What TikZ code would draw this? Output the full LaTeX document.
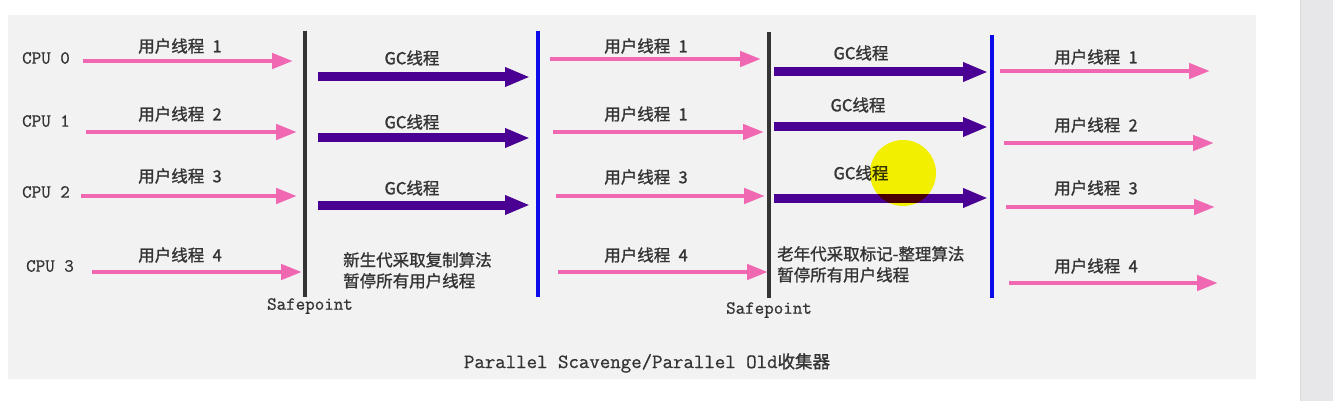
\documentclass[tikz,border=0pt]{standalone}
\usepackage{fontspec}
\setmonofont[FakeBold=0.8]{Latin Modern Mono}
\newfontfamily\cjk[FakeBold=1.2]{Noto Sans CJK SC}
\usepackage{xcolor}
\usetikzlibrary{arrows.meta,positioning}
\definecolor{panelgray}{RGB}{242,242,242}
\definecolor{bargray}{RGB}{231,231,233}
\definecolor{userpink}{RGB}{240,104,178}
\definecolor{gcpurple}{RGB}{74,0,146}
\definecolor{spblue}{RGB}{12,12,235}
\definecolor{inkgray}{RGB}{52,52,52}
\definecolor{cursoryellow}{RGB}{255,252,0}

\begin{document}
\begin{tikzpicture}[x=1pt,y=-1pt,
  userarrow/.style={line width=4.5pt,userpink,-{Triangle[length=21pt,width=15pt]}},
  gcarrow/.style={line width=9pt,gcpurple,-{Triangle[length=25pt,width=18pt]}},
  spline/.style={line width=3.5pt,inkgray},
  blueline/.style={line width=3.5pt,spblue},
  cjklbl/.style={inner sep=0pt,text=inkgray,font=\cjk\fontsize{16.5}{19}\selectfont},
  monolbl/.style={inner sep=0pt,text=inkgray,font=\ttfamily\fontsize{18.5}{21}\selectfont},
  desclbl/.style={cjklbl,anchor=north west,align=left,font=\cjk\fontsize{16.5}{21}\selectfont}]
\useasboundingbox (0,0) rectangle (1333,401);
\fill[white] (0,0) rectangle (1333,401);
\fill[panelgray] (8,15) rectangle (1256,379);
\fill[bargray] (1300,0) rectangle (1333,401);
\draw[line width=1pt,black!15] (1300,0) -- (1300,401);

\foreach \i/\x/\y in {0/46/58,1/46/121,2/46/192,3/50/266}
  \node[monolbl] (cpu\i) at (\x,\y) {CPU \i};

\foreach \i/\y/\xa/\xb/\ly in {0/61/83/293/46,1/132/86/297/114,2/196/81/297/176,3/272/92/302/255} {
  \coordinate (ua\i) at (\xa,\y);
  \coordinate (ub\i) at (\xb,\y);
  \draw[userarrow] (ua\i) -- (ub\i);
  \pgfmathtruncatemacro\n{\i+1}
  \node[cjklbl] (ul\i) at (180,\ly) {用户线程\enspace\n};
}

\coordinate (spa) at (305,31);
\coordinate (spb) at (305,297);
\draw[spline] (spa) -- (spb);
\node[monolbl,below=1pt of spb,xshift=5pt] (safe1) {Safepoint};

\foreach \i/\y/\ly in {0/77/58,1/138/122,2/205/188} {
  \coordinate (ga\i) at (318,\y);
  \coordinate (gb\i) at (530,\y);
  \draw[gcarrow] (ga\i) -- (gb\i);
  \node[cjklbl] (gl\i) at (412,\ly) {GC线程};
}
\node[desclbl] (young) at (343,252) {新生代采取复制算法\\暂停所有用户线程};

\coordinate (bla) at (538,31);
\coordinate (blb) at (538,297);
\draw[blueline] (bla) -- (blb);

\foreach \i/\y/\xa/\xb/\ly/\n in {0/59/550/761/46/1,1/132/553/764/114/1,2/196/556/765/177/3,3/272/558/768/255/4} {
  \coordinate (va\i) at (\xa,\y);
  \coordinate (vb\i) at (\xb,\y);
  \draw[userarrow] (va\i) -- (vb\i);
  \node[cjklbl] (vl\i) at (646,\ly) {用户线程\enspace\n};
}

\coordinate (sqa) at (769,32);
\coordinate (sqb) at (769,298);
\draw[spline] (sqa) -- (sqb);
\node[monolbl,below=4pt of sqb] (safe2) {Safepoint};

\foreach \i/\y/\ly/\lx in {0/72/53/861,1/127/105/858,2/198/173/861} {
  \coordinate (ha\i) at (774,\y);
  \coordinate (hb\i) at (988,\y);
  \draw[gcarrow] (ha\i) -- (hb\i);
  \node[cjklbl] (hl\i) at (\lx,\ly) {GC线程};
}
\node[desclbl] (old) at (777,246) {老年代采取标记-整理算法\\暂停所有用户线程};

\coordinate (bma) at (992,35);
\coordinate (bmb) at (992,298);
\draw[blueline] (bma) -- (bmb);

\foreach \i/\y/\xa/\xb/\ly in {0/71/1000/1210/57,1/143/1004/1214/125,2/207/1006/1215/188,3/283/1009/1218/266} {
  \coordinate (wa\i) at (\xa,\y);
  \coordinate (wb\i) at (\xb,\y);
  \draw[userarrow] (wa\i) -- (wb\i);
  \pgfmathtruncatemacro\n{\i+1}
  \node[cjklbl] (wl\i) at (1096,\ly) {用户线程\enspace\n};
}

\node[monolbl,font=\ttfamily\fontsize{20.3}{22}\selectfont] (title) at (647,363) {Parallel Scavenge/Parallel Old{\cjk\fontsize{17.5}{20}\selectfont 收集器}};

\fill[cursoryellow,blend mode=multiply] (903,173) circle (33);
\end{tikzpicture}
\end{document}
